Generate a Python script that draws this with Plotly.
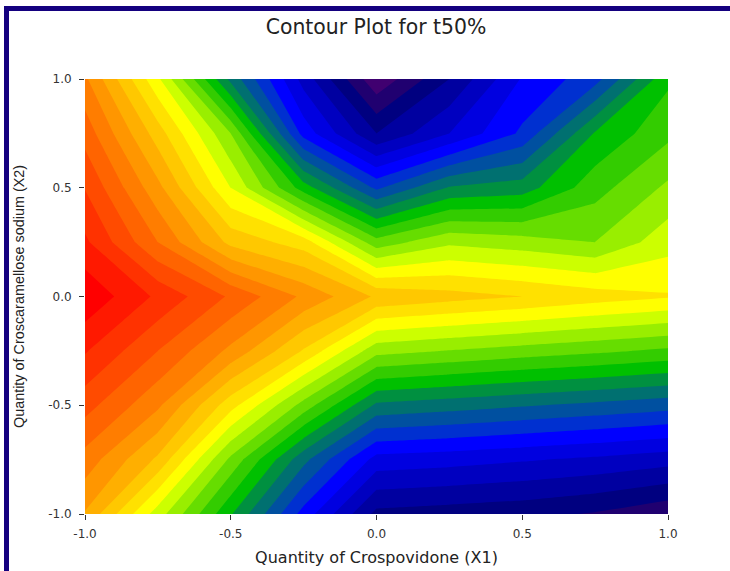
import plotly.graph_objects as go

x_values = [-1, -0.75, -0.5, -0.25, 0, 0.25, 0.5, 0.75, 1]
y_values = [-1, -0.75, -0.5, -0.25, 0, 0.25, 0.5, 0.75, 1]
z_rows = [
    [19.9, 15.5, 11.1, 6.6, 2.7, 2.5, 2.3, 1.9, 1.2],
    [21.6, 18.8, 13.75, 9.3, 5.6, 5.4, 5.1, 4.8, 4.4],
    [23.4, 21.2, 17.4, 13.6, 9.8, 9.45, 9.1, 8.75, 8.4],
    [25.1, 23.0, 20.75, 17.9, 14.35, 13.95, 13.55, 13.2, 12.8],
    [26.8, 24.8, 22.85, 20.8, 18.85, 18.4, 18.0, 17.5, 17.1],
    [25.2, 22.0, 18.7, 17.5, 13.4, 14.8, 14.45, 14.0, 15.6],
    [23.95, 20.3, 16.0, 11.5, 7.8, 10.1, 10.5, 12.6, 14.2],
    [22.6, 18.5, 14.0, 6.6, 3.0, 5.0, 7.2, 11.1, 12.75],
    [21.2, 16.2, 9.7, 4.6, 0.2, 3.0, 6.1, 7.6, 11.8],
]
band_colors = ["#400070", "#200070", "#000080", "#0000A0", "#0000C0", "#0000E0", "#0000FF", "#0030D0",
               "#0050A0", "#007070", "#009040", "#00C000", "#33CC00", "#66DD00", "#99EE00", "#CCFF00",
               "#FFFF00", "#FFE100", "#FFC800", "#FFAF00", "#FF9600", "#FF7D00", "#FF6400", "#FF4B00",
               "#FF3200", "#FF1900", "#FF0000"]
tick_vals = [-1, -0.5, 0, 0.5, 1]
tick_text = ["-1.0", "-0.5", "0.0", "0.5", "1.0"]

n = len(band_colors)
scale = []
for i, c in enumerate(band_colors):
    scale += [[i / n, c], [(i + 1) / n, c]]

fig = go.Figure(go.Contour(
    x=x_values, y=y_values, z=z_rows, zmin=0, zmax=n, colorscale=scale, showscale=False,
    autocontour=False, contours=dict(start=0, end=n, size=1, coloring="fill", showlines=False),
    line=dict(width=0, smoothing=0), hoverinfo="skip"))

FONT = "Liberation Sans, Arial, sans-serif"
WIDE = "DejaVu Sans, sans-serif"
axis = dict(range=[-1, 1], tickvals=tick_vals, ticktext=tick_text, ticks="outside", ticklen=5, tickwidth=1,
            tickcolor="#333", showgrid=False, zeroline=False, showline=False, automargin=False,
            tickfont=dict(family=WIDE, size=12, color="#333"))
fig.update_layout(
    width=730, height=571, autosize=False, paper_bgcolor="white", plot_bgcolor="white",
    margin=dict(l=85, r=62, t=79, b=57),
    title=dict(text="Contour Plot for t50%", x=376 / 730, xanchor="center", y=1 - 27 / 571, yanchor="middle",
               font=dict(family=WIDE, size=20.4, color="#222")),
    xaxis=dict(axis, ticklabelstandoff=4, title=dict(text="Quantity of Crospovidone (X1)", standoff=11,
                                font=dict(family=WIDE, size=16, color="#222"))),
    yaxis=dict(axis, ticklabelstandoff=5, title=dict(text="Quantity of Croscaramellose sodium (X2)", standoff=20,
                                font=dict(family=FONT, size=14.4, color="#222"))),
    shapes=[
        dict(type="rect", xref="paper", yref="paper", layer="above", line_width=0, fillcolor="#14007F",
             x0=-81 / 583, x1=645 / 583, y0=1 + 68 / 435, y1=1 + 73 / 435),
        dict(type="rect", xref="paper", yref="paper", layer="above", line_width=0, fillcolor="#14007F",
             x0=-81 / 583, x1=-76 / 583, y0=-57 / 435, y1=1 + 73 / 435),
    ],
)
fig.write_html("out.html", post_script="document.body.style.margin='0';", config={"displayModeBar": False})
